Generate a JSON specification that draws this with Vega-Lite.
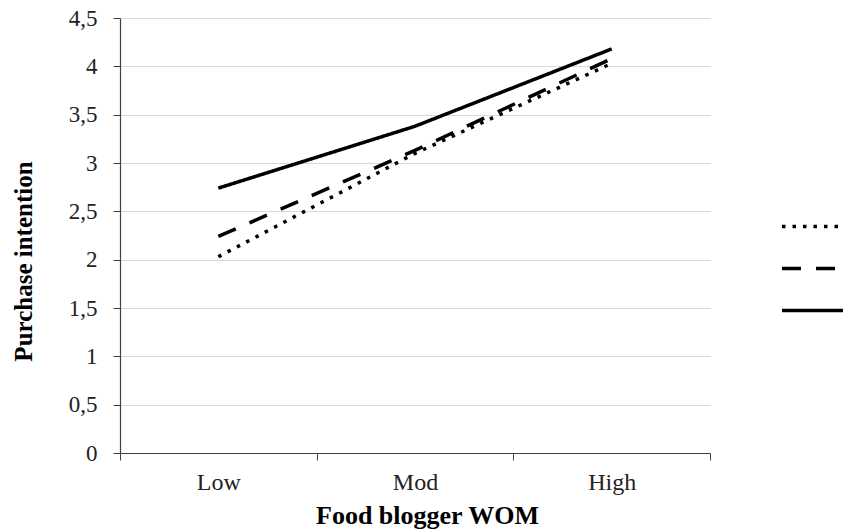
{
  "$schema": "https://vega.github.io/schema/vega-lite/v6.json",
  "width": 590,
  "height": 435,
  "autosize": {"type": "none"},
  "padding": {"left": 120, "top": 18, "right": 133, "bottom": 77},
  "background": "white",
  "data": {
    "values": [
      {"wom": "Low", "series": "1", "pi": 2.03},
      {"wom": "Mod", "series": "1", "pi": 3.1},
      {"wom": "High", "series": "1", "pi": 4.03},
      {"wom": "Low", "series": "2", "pi": 2.24},
      {"wom": "Mod", "series": "2", "pi": 3.13},
      {"wom": "High", "series": "2", "pi": 4.08},
      {"wom": "Low", "series": "3", "pi": 2.74},
      {"wom": "Mod", "series": "3", "pi": 3.38},
      {"wom": "High", "series": "3", "pi": 4.18}
    ]
  },
  "config": {
    "view": {"stroke": null},
    "font": "Liberation Serif"
  },
  "mark": {"type": "line", "stroke": "black", "strokeWidth": 3.5, "strokeCap": "butt"},
  "encoding": {
    "x": {
      "field": "wom",
      "type": "ordinal",
      "sort": ["Low", "Mod", "High"],
      "scale": {"type": "band", "paddingInner": 0, "paddingOuter": 0},
      "axis": {
        "title": "Food blogger WOM",
        "titleFont": "Liberation Serif",
        "titleFontSize": 26,
        "titleFontWeight": "bold",
        "titleColor": "black",
        "titlePadding": 8,
        "titleX": 307,
        "labelFont": "Liberation Serif",
        "labelFontSize": 24,
        "labelColor": "#222",
        "labelAngle": 0,
        "labelPadding": 10,
        "tickBand": "extent",
        "tickSize": 7,
        "tickColor": "#404040",
        "domainColor": "#404040",
        "domainWidth": 1.2,
        "grid": false
      }
    },
    "y": {
      "field": "pi",
      "type": "quantitative",
      "scale": {"domain": [0, 4.5], "nice": false},
      "axis": {
        "title": "Purchase intention",
        "titleFont": "Liberation Serif",
        "titleFontSize": 25,
        "titleFontWeight": "bold",
        "titleColor": "black",
        "titlePadding": 32,
        "titleY": 243,
        "values": [0, 0.5, 1, 1.5, 2, 2.5, 3, 3.5, 4, 4.5],
        "format": "~g",
        "labelExpr": "replace(datum.label, '.', ',')",
        "labelFont": "Liberation Serif",
        "labelFontSize": 23,
        "labelColor": "#222",
        "labelPadding": 16,
        "tickSize": 7,
        "tickColor": "#404040",
        "domainColor": "#404040",
        "domainWidth": 1.2,
        "grid": true,
        "gridColor": "#d9d9d9",
        "gridWidth": 1.2
      }
    },
    "strokeDash": {
      "field": "series",
      "type": "nominal",
      "scale": {"domain": ["1", "2", "3"], "range": [[3.5, 7], [19, 15], [1, 0]]},
      "legend": {
        "title": null,
        "orient": "none",
        "legendX": 660,
        "legendY": 174,
        "symbolType": "stroke",
        "symbolSize": 4225,
        "symbolStrokeWidth": 3.5,
        "symbolStrokeColor": "black",
        "labelExpr": "''",
        "rowPadding": -20
      }
    },
    "detail": {"field": "series"}
  }
}
